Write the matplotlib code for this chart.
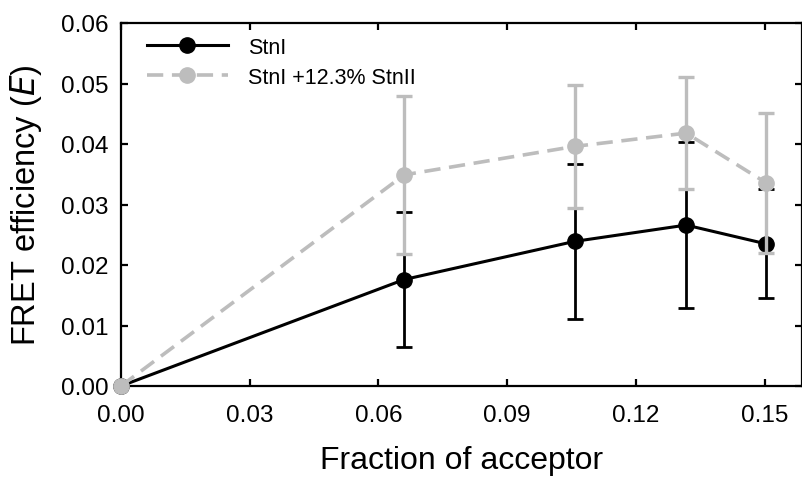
import matplotlib
matplotlib.use("Agg")
import matplotlib.pyplot as plt

plt.rcParams['font.family'] = ['Liberation Sans', 'DejaVu Sans']

# Data
x_stni = [0.0, 0.066, 0.1057, 0.1317, 0.1503]
y_stni = [0.0, 0.0176, 0.0239, 0.0266, 0.0235]
err_stni = [0.0, 0.0111, 0.0128, 0.0137, 0.0090]

x_mix = [0.0, 0.066, 0.1057, 0.1317, 0.1503]
y_mix = [0.0, 0.0349, 0.0396, 0.0418, 0.0336]
err_mix = [0.0, 0.0131, 0.0102, 0.0093, 0.0116]

label_stni = "StnI"
label_mix = "StnI +12.3% StnII"
xticks = [0.00, 0.03, 0.06, 0.09, 0.12, 0.15]
yticks = [0.00, 0.01, 0.02, 0.03, 0.04, 0.05, 0.06]

black = "#000000"
gray = "#bdbdbd"

fig = plt.figure(figsize=(8.03, 4.81), dpi=100)
ax = fig.add_axes([121 / 803, (481 - 387) / 481, (802 - 121) / 803, (387 - 24) / 481])

# Black series (StnI)
ax.errorbar(x_stni[1:], y_stni[1:], yerr=err_stni[1:], fmt='none', ecolor=black,
            elinewidth=2.0, capsize=6, capthick=2.0, zorder=2)
ln1, = ax.plot(x_stni, y_stni, color=black, lw=2.2, marker='o', markersize=11,
               markeredgecolor=black, markerfacecolor=black, zorder=3, clip_on=False)

# Gray series (StnI + StnII)
ax.errorbar(x_mix[1:], y_mix[1:], yerr=err_mix[1:], fmt='none', ecolor=gray,
            elinewidth=2.4, capsize=6, capthick=2.4, zorder=4)
ln2, = ax.plot(x_mix, y_mix, color=gray, lw=2.6, ls=(0, (4.5, 2.4)), marker='o',
               markersize=11, markeredgecolor=gray, markerfacecolor=gray, zorder=5,
               clip_on=False)

ax.set_xlim(0, 0.1587)
ax.set_ylim(0, 0.06)
ax.set_xticks(xticks)
ax.set_xticklabels([f"{v:.2f}" for v in xticks])
ax.set_yticks(yticks)
ax.set_yticklabels([f"{v:.2f}" for v in yticks])

for sp in ax.spines.values():
    sp.set_linewidth(1.6)
ax.tick_params(direction='in', length=5, width=1.6, top=True, right=True,
               labelsize=17.5)
ax.tick_params(axis='x', pad=13)
ax.tick_params(axis='y', pad=9)

ax.set_xlabel("Fraction of acceptor", fontsize=23)
ax.set_ylabel("FRET efficiency ($\\mathit{E}$)", fontsize=23.5)
ax.xaxis.set_label_coords(0.5, -0.163)
ax.yaxis.set_label_coords(-0.113, 0.5)

ax.legend([ln1, ln2], [label_stni, label_mix], loc='upper left',
          bbox_to_anchor=(0.038, 0.962), frameon=False, fontsize=15.5,
          handlelength=3.77, handletextpad=0.93, labelspacing=0.41,
          borderpad=0, borderaxespad=0)

fig.savefig("out.png", dpi=100)
